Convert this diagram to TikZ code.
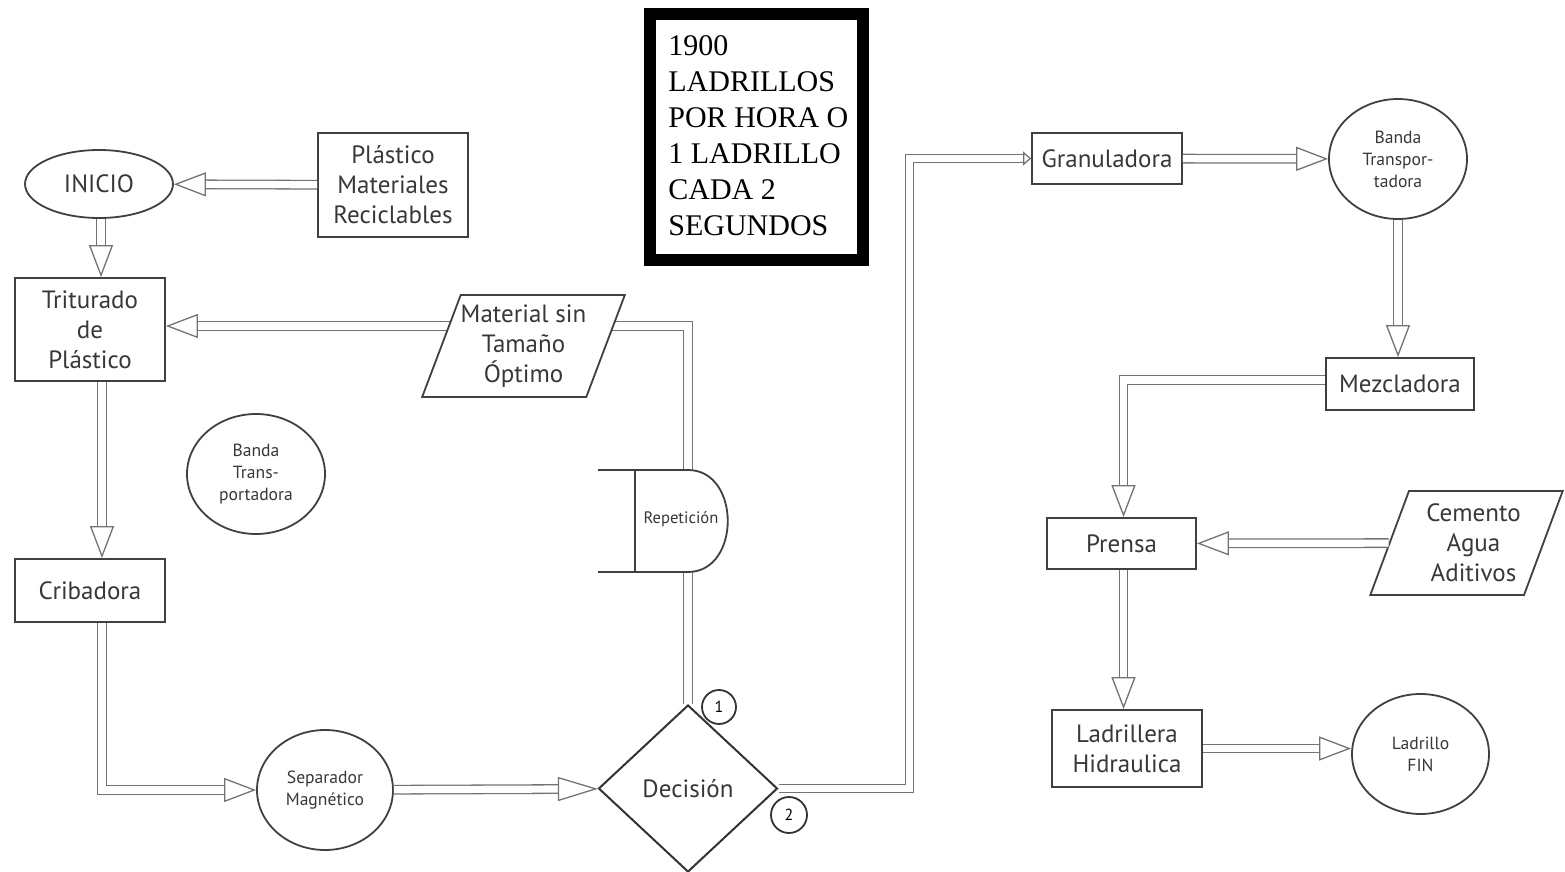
\documentclass[tikz,border=0pt]{standalone}
\usepackage{fontspec}
\setmainfont{PT Sans}
\newfontfamily\notefont{Liberation Serif}
\usetikzlibrary{arrows.meta,shapes.geometric,calc}

\begin{document}
\begin{tikzpicture}[x=0.5pt,y=-0.5pt,
  lbl/.style={text=black!78, font=\fontsize{12.5}{15}\selectfont, align=center},
  small/.style={text=black!78, font=\fontsize{8.8}{11}\selectfont, align=center},
  box/.style={lbl, rectangle, draw=black!75, line width=0.9pt, fill=white, inner sep=0pt},
  oval/.style={small, ellipse, draw=black!75, line width=0.9pt, fill=white, inner sep=0pt},
  datain/.style={lbl, trapezium, trapezium stretches=true, draw=black!75, line width=0.9pt,
     fill=white, inner sep=0pt},
  decide/.style={lbl, diamond, draw=black!80, line width=1pt, fill=white, inner sep=0pt},
  tag/.style={circle, draw=black!80, line width=0.9pt, fill=white, inner sep=0pt,
     minimum size=17pt, font=\fontsize{8}{9}\selectfont},
  flowline/.style={draw=black!55, line width=0.65pt, double=white, double distance=3.6pt},
  flow/.style={flowline,
     -{Triangle[open, fill=white, line width=0.65pt, length=16pt, width=12pt]}},
  longflow/.style={flowline,
     -{Triangle[open, fill=white, line width=0.65pt, length=20pt, width=12pt]}},
  shortflow/.style={flowline,
     -{Triangle[open, fill=white, line width=0.65pt, length=4pt, width=7pt]}},
  infobox/.style={draw=black, line width=6pt, fill=white, inner sep=0pt,
     minimum width=106.5pt, minimum height=123pt},
  notetext/.style={font=\notefont\fontsize{15}{18}\selectfont, align=left, inner sep=0pt,
     text=black}
]
\useasboundingbox (0,0) rectangle (1565,872);

% ---- nodes of the left column
\node[oval, lbl, minimum width=74pt, minimum height=34pt] (inicio) at (99,184) {INICIO};
\node[box, minimum width=75pt, minimum height=52pt] (plastico) at (393,185)
  {Plástico\\Materiales\\Reciclables};
\node[box, minimum width=75pt, minimum height=51.5pt] (triturado) at (90,329.5)
  {Triturado\\de\\Plástico};
\node[box, minimum width=75pt, minimum height=31.5pt] (cribadora) at (90,590.5) {Cribadora};
\node[oval, minimum width=69pt, minimum height=60pt] (banda1) at (256,474)
  {Banda\\Trans-\\portadora};
\node[oval, minimum width=68pt, minimum height=60pt] (separador) at (325,790)
  {Separador\\Magnético};

% ---- decision
\node[decide, minimum width=89.5pt, minimum height=83.5pt] (decision) at (688,788.5) {Decisión};

% ---- right column
\node[box, minimum width=75pt, minimum height=25.5pt] (granuladora) at (1107,158.5) {Granuladora};
\node[oval, minimum width=69pt, minimum height=60pt] (banda2) at (1398,159)
  {Banda\\Transpor-\\tadora};
\node[box, minimum width=74pt, minimum height=26pt] (mezcladora) at (1400,384) {Mezcladora};
\node[box, minimum width=74.5pt, minimum height=25.5pt] (prensa) at (1121.5,543.5) {Prensa};
\node[datain, trapezium left angle=65, trapezium right angle=115,
  minimum width=96.5pt, minimum height=52pt] (cemento) at (1466.5,543)
  {\hspace*{7pt}Cemento\\\hspace*{7pt}Agua\\\hspace*{7pt}Aditivos};
\node[box, minimum width=75pt, minimum height=38.5pt] (ladrillera) at (1127,748.5)
  {Ladrillera\\Hidraulica};
\node[oval, minimum width=68.5pt, minimum height=60pt] (fin) at (1420.5,754) {Ladrillo\\FIN};

% ---- production note
\node[infobox] (nota) at (756.5,137) {};
\node[notetext, anchor=north west] (notatexto) at (668,35)
  {1900\\LADRILLOS\\POR HORA O\\1 LADRILLO\\CADA 2\\SEGUNDOS};

% ---- connectors
\coordinate (inicioout) at ($(inicio.south)+(2,0)$);
\coordinate (trituradoout) at ($(triturado.south)+(12,0)$);
\coordinate (cribadoraout) at ($(cribadora.south)+(12,0)$);
\coordinate (prensaout) at ($(prensa.south)+(2,0)$);
\coordinate (loopcorner) at ($(decision.north)+(0,-378)$);
\coordinate (exitcorner) at ($(decision.east)+(131,0)$);

\draw[flow] (plastico) -- (inicio);
\draw[flow] (inicioout) -- (inicioout |- triturado.north);
\draw[flow] (trituradoout) -- (trituradoout |- cribadora.north);
\draw[flow] (cribadoraout) |- (separador.west);
\draw[longflow] (separador) -- (decision);
\draw[flow] (decision.north) -- (loopcorner) -- (loopcorner -| triturado.east);
\draw[shortflow] (decision.east) -- (exitcorner) -- (exitcorner |- granuladora.west) -- (granuladora.west);
\draw[flow] (granuladora) -- (banda2);
\draw[flow] (banda2) -- (banda2 |- mezcladora.north);
\draw[flow] ($(mezcladora.west)+(0,-4)$) -| ($(prensa.north)+(2,0)$);
\draw[flow] (cemento) -- (prensa);
\draw[flow] (prensaout) -- (prensaout |- ladrillera.north);
\draw[flow] (ladrillera.east) -- (ladrillera.east -| fin.west);

% material box sits on top of the return line
\node[datain, trapezium left angle=65, trapezium right angle=115,
  minimum width=99pt, minimum height=51pt] (material) at (523.5,346)
  {Material sin\\Tamaño\\Óptimo};

% ---- repetition (delay) symbol over the return line
\coordinate (reptop) at (688,470);
\coordinate (repbot) at (688,572);
\fill[white] (635,470) -- (reptop) .. controls (741,470) and (741,572) .. (repbot) -- (635,572) -- cycle;
\draw[draw=black!75, line width=0.9pt] (598,470) -- (reptop)
  .. controls (741,470) and (741,572) .. (repbot) -- (598,572);
\draw[draw=black!75, line width=0.9pt] (635,470) -- (635,572);
\node[small, font=\fontsize{8.3}{10}\selectfont] (repeticion) at (681,519) {Repetición};

% ---- decision outcome tags
\node[tag] (uno) at (719,707) {1};
\node[tag, minimum size=18pt] (dos) at (789,815) {2};
\end{tikzpicture}
\end{document}
